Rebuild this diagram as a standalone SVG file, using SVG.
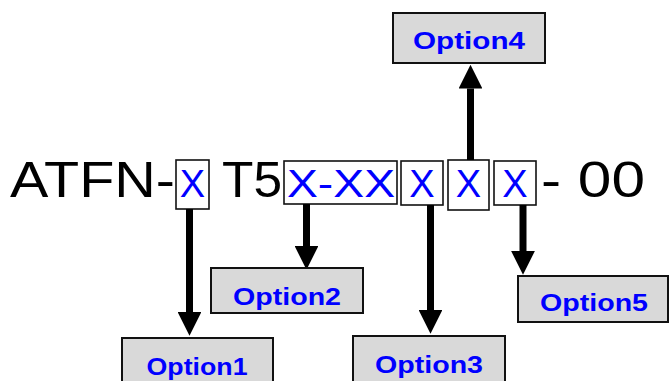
<svg xmlns="http://www.w3.org/2000/svg" width="669" height="381" viewBox="0 0 669 381">
<defs>
<style>
.big{font-family:"Liberation Sans",Arial,sans-serif;font-size:50px;fill:#000}
.bx{font-family:"Liberation Sans",Arial,sans-serif;font-size:38px;fill:#0000ff}
.slot{fill:#fff;stroke:#111;stroke-width:1.6}
.opt{fill:#d9d9d9;stroke:#111;stroke-width:2}
.lbl{font-family:"Liberation Sans",Arial,sans-serif;font-weight:bold;font-size:24px;fill:#0000ff;text-anchor:middle}
.arr{stroke:#000;stroke-width:7;fill:none;marker-end:url(#head)}
</style>
<marker id="head" viewBox="0 0 10 10" refX="0" refY="5" markerWidth="3.4" markerHeight="3.4" orient="auto" markerUnits="strokeWidth">
<path d="M0,0 L10,5 L0,10 z" fill="#000"/>
</marker>
</defs>
<rect width="669" height="381" fill="#fff"/>
<g id="code">
<text class="big" x="10" y="197" textLength="165" lengthAdjust="spacingAndGlyphs">ATFN-</text>
<text class="big" x="222" y="197" textLength="60" lengthAdjust="spacingAndGlyphs">T5</text>
<text class="big" x="541" y="197" textLength="104" lengthAdjust="spacingAndGlyphs">- 00</text>
</g>
<g id="slot1"><rect class="slot" x="176" y="160" width="33" height="49"/><text class="bx" x="192.5" y="197" text-anchor="middle">X</text></g>
<g id="slot2"><rect class="slot" x="284" y="161" width="113" height="43"/><text class="bx" x="287" y="197" textLength="108" lengthAdjust="spacingAndGlyphs">X-XX</text></g>
<g id="slot3"><rect class="slot" x="401" y="161" width="42" height="44"/><text class="bx" x="422" y="197" text-anchor="middle">X</text></g>
<g id="slot4"><rect class="slot" x="448" y="160" width="41" height="50"/><text class="bx" x="468.5" y="197" text-anchor="middle">X</text></g>
<g id="slot5"><rect class="slot" x="494" y="161" width="42" height="44"/><text class="bx" x="515" y="197" text-anchor="middle">X</text></g>
<g id="connectors">
<line class="arr" x1="189.5" y1="209" x2="189.5" y2="312"/>
<line class="arr" x1="306.5" y1="204" x2="306.5" y2="246"/>
<line class="arr" x1="430.5" y1="205" x2="430.5" y2="310"/>
<line class="arr" x1="470.5" y1="160" x2="470.5" y2="88.5"/>
<line class="arr" x1="523" y1="205" x2="523" y2="251"/>
</g>
<g id="option1"><rect class="opt" x="122" y="338" width="151" height="50"/><text class="lbl" x="197" y="375" textLength="101" lengthAdjust="spacingAndGlyphs">Option1</text></g>
<g id="option2"><rect class="opt" x="211" y="268" width="152" height="45"/><text class="lbl" x="287" y="305" textLength="108" lengthAdjust="spacingAndGlyphs">Option2</text></g>
<g id="option3"><rect class="opt" x="353" y="336" width="152" height="50"/><text class="lbl" x="429" y="373" textLength="108" lengthAdjust="spacingAndGlyphs">Option3</text></g>
<g id="option4"><rect class="opt" x="393" y="13" width="152" height="50"/><text class="lbl" x="469" y="49" textLength="112" lengthAdjust="spacingAndGlyphs">Option4</text></g>
<g id="option5"><rect class="opt" x="518" y="276" width="150" height="46"/><text class="lbl" x="594" y="311" textLength="108" lengthAdjust="spacingAndGlyphs">Option5</text></g>
</svg>
